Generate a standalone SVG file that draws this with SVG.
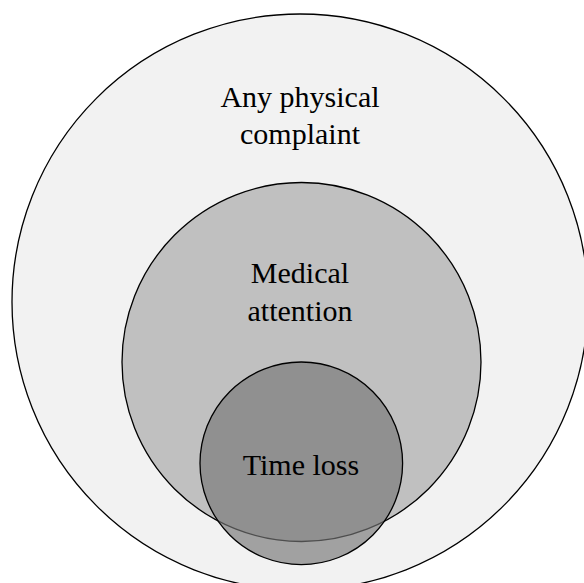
<svg xmlns="http://www.w3.org/2000/svg" width="584" height="583" viewBox="0 0 584 583">
<style>
.c{stroke:#000;stroke-width:1.3}
.t{font-family:"Liberation Serif","Times New Roman",serif;font-size:30px;fill:#000;text-anchor:middle}
</style>
<rect width="584" height="583" fill="#fff"/>
<g id="any-physical-complaint">
<circle class="c" cx="300" cy="302" r="288" fill="#f2f2f2"/>
<text class="t" x="300" y="107">Any physical</text>
<text class="t" x="300" y="144">complaint</text>
</g>
<g id="medical-attention">
<circle class="c" cx="301.5" cy="362" r="179.5" fill="#c0c0c0"/>
<text class="t" x="300" y="283">Medical</text>
<text class="t" x="300" y="321">attention</text>
</g>
<g id="time-loss">
<circle class="c" cx="301.3" cy="463.3" r="101.3" fill="#767676" fill-opacity="0.66"/>
<text class="t" x="301" y="475">Time loss</text>
</g>
<g id="connectors"/>
</svg>
